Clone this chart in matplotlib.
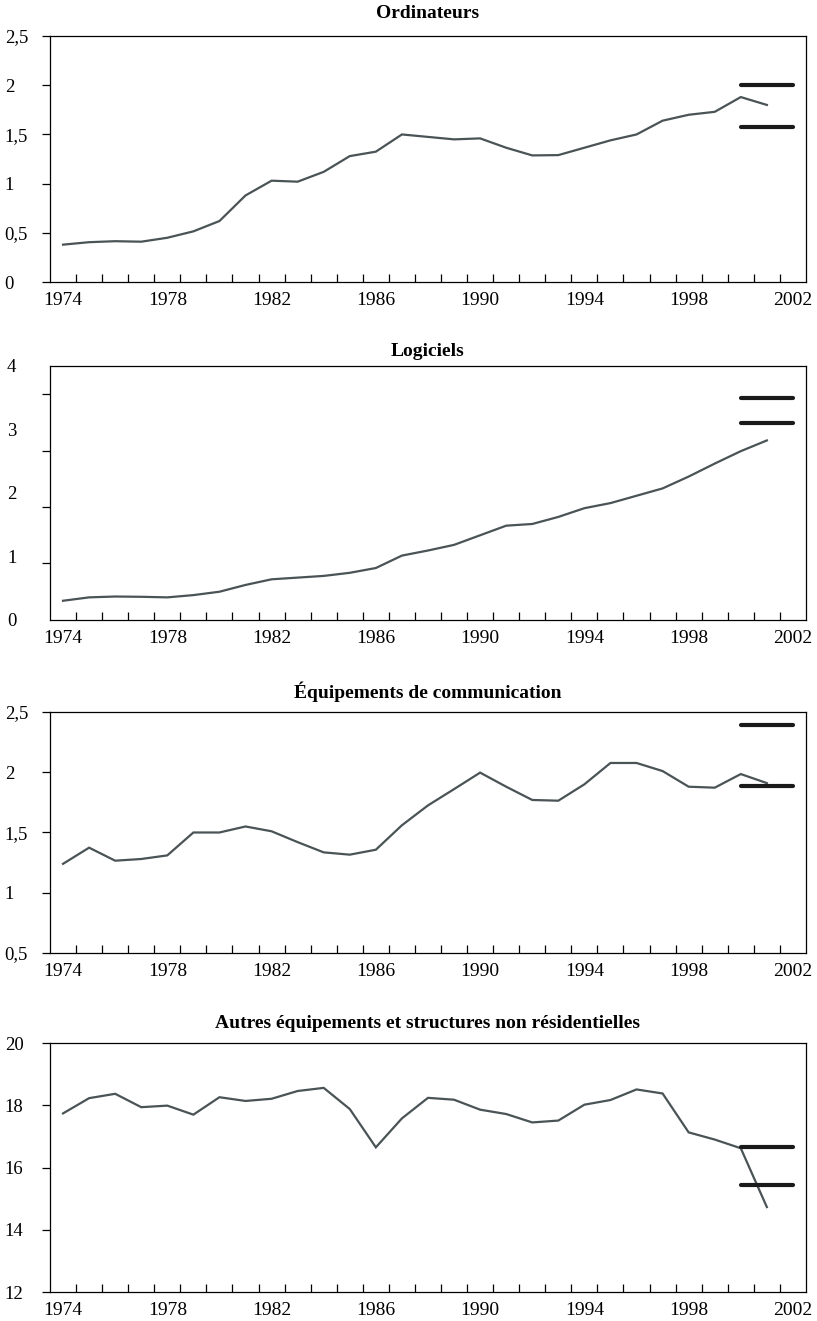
import matplotlib
matplotlib.use("Agg")
import matplotlib.pyplot as plt
import numpy as np

plt.rcParams['font.family'] = ['Liberation Serif', 'DejaVu Serif']

years = list(range(1974, 2002))

ordinateurs = [0.38, 0.405, 0.415, 0.41, 0.45, 0.515, 0.62, 0.88, 1.03, 1.02,
               1.12, 1.28, 1.325, 1.50, 1.475, 1.45, 1.46, 1.365, 1.287, 1.29,
               1.365, 1.44, 1.50, 1.64, 1.70, 1.73, 1.88, 1.80]
logiciels = [0.34, 0.40, 0.415, 0.41, 0.40, 0.44, 0.50, 0.62, 0.72, 0.75,
             0.78, 0.835, 0.92, 1.14, 1.23, 1.33, 1.50, 1.67, 1.70, 1.825,
             1.98, 2.07, 2.20, 2.33, 2.54, 2.77, 2.99, 3.18]
communication = [1.24, 1.374, 1.266, 1.28, 1.31, 1.50, 1.50, 1.55, 1.51, 1.42,
                 1.335, 1.316, 1.357, 1.56, 1.725, 1.86, 1.997, 1.88, 1.77, 1.764,
                 1.90, 2.077, 2.077, 2.01, 1.88, 1.872, 1.985, 1.91]
autres = [17.74, 18.23, 18.37, 17.94, 17.99, 17.70, 18.26, 18.14, 18.21, 18.46,
          18.56, 17.88, 16.65, 17.58, 18.24, 18.18, 17.86, 17.72, 17.45, 17.51,
          18.02, 18.17, 18.51, 18.38, 17.13, 16.90, 16.62, 14.73]

# horizontal reference bars over 2000-2002
bars_ordi = [2.00, 1.575]
bars_logi = [3.93, 3.48]
bars_comm = [2.39, 1.89]
bars_autres = [16.67, 15.43]

titles = ["Ordinateurs", "Logiciels", "Équipements de communication",
          "Autres équipements et structures non résidentielles"]
xlabels = [1974, 1978, 1982, 1986, 1990, 1994, 1998, 2002]

panels = [
    (ordinateurs, bars_ordi, (0, 2.5), [0, 0.5, 1, 1.5, 2, 2.5],
     ["0", "0,5", "1", "1,5", "2", "2,5"]),
    (logiciels, bars_logi, (0, 4.5), [0, 1, 2, 3, 4], ["0", "1", "2", "3", "4"]),
    (communication, bars_comm, (0.5, 2.5), [0.5, 1, 1.5, 2, 2.5],
     ["0,5", "1", "1,5", "2", "2,5"]),
    (autres, bars_autres, (12, 20), [12, 14, 16, 18, 20], ["12", "14", "16", "18", "20"]),
]

# axes boxes in figure fractions [left, bottom, width, height]
boxes = [
    [0.0612, 0.7865, 0.9253, 0.1862],
    [0.0612, 0.5307, 0.9253, 0.1923],
    [0.0612, 0.2786, 0.9253, 0.1824],
    [0.0612, 0.0219, 0.9253, 0.1885],
]
title_pads = [13, 7, 10, 11]

fig = plt.figure(figsize=(8.17, 13.21), dpi=100)

for i, (vals, bars, ylim, yt, ytl) in enumerate(panels):
    ax = fig.add_axes(boxes[i])
    ax.plot(years, vals, color="#4a5356", lw=1.6, solid_joinstyle="miter")
    for b in bars:
        ax.plot([2000, 2002], [b, b], color="#1a1a1a", lw=3.0, solid_capstyle="round")
    ax.set_xlim(1973.5, 2002.5)
    ax.set_ylim(*ylim)

    ax.set_xticks(xlabels)
    ax.set_xticklabels([str(y) for y in xlabels])
    ax.set_xticks(np.arange(1974.5, 2002, 1.0), minor=True)
    ax.tick_params(axis="x", which="major", length=0, labelsize=14, pad=7)
    ax.tick_params(axis="x", which="minor", direction="in", length=6, width=0.9)

    # y labels are left-aligned near the figure edge (~7 px)
    if i == 1:
        # tick marks on the data scale, labels spread evenly along the axis
        ax.set_yticks(yt, minor=True)
        ax.tick_params(axis="y", which="minor", direction="out", length=6, width=0.9)
        ax.set_yticks(np.linspace(ylim[0], ylim[1], len(ytl)))
        ax.set_yticklabels(ytl)
        ax.tick_params(axis="y", which="major", length=0, labelsize=13.5, pad=31)
    else:
        ax.set_yticks(yt)
        ax.set_yticklabels(ytl)
        ax.tick_params(axis="y", which="major", direction="out", length=6, width=0.9,
                       labelsize=13.5, pad=26.6)
    for lab in ax.get_yticklabels():
        lab.set_horizontalalignment("left")

    for s in ax.spines.values():
        s.set_linewidth(0.9)
    ax.set_title(titles[i], fontsize=14, fontweight="bold", pad=title_pads[i])

fig.savefig("out.png", dpi=100)
